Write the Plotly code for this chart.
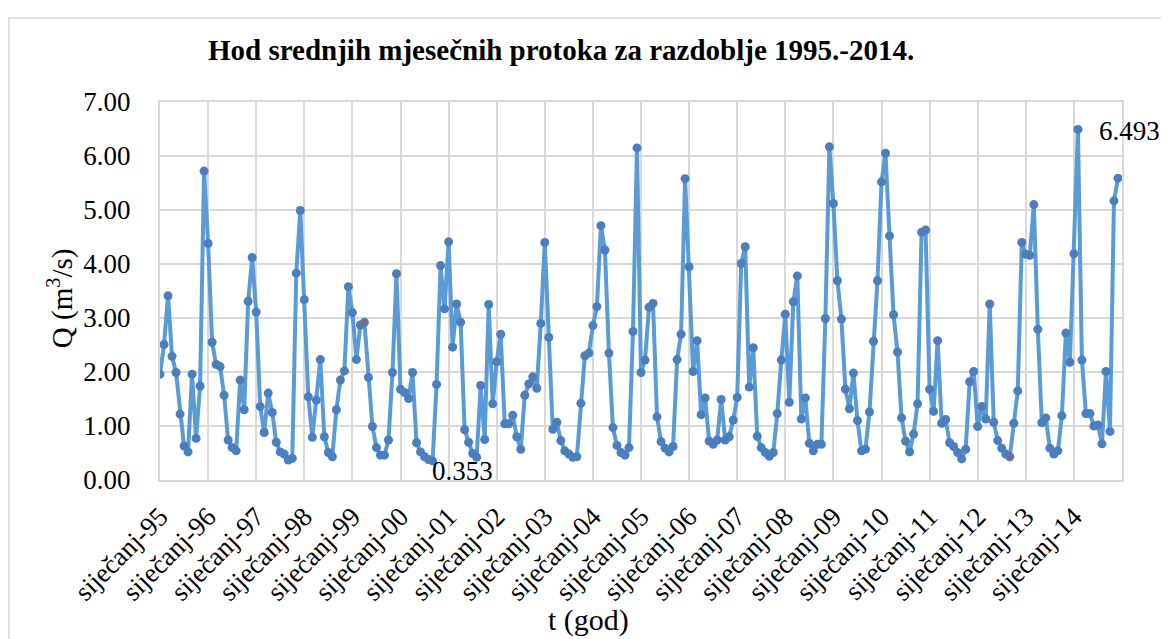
import plotly.graph_objects as go

# Monthly mean discharge Q (m3/s), January 1995 - December 2014
q_1995 = [1.96, 2.51, 3.41, 2.29, 1.99, 1.22, 0.63, 0.52, 1.96, 0.77, 1.74, 5.72]
q_1996 = [4.38, 2.55, 2.14, 2.10, 1.57, 0.74, 0.60, 0.54, 1.85, 1.30, 3.31, 4.12]
q_1997 = [3.11, 1.36, 0.88, 1.61, 1.25, 0.70, 0.52, 0.48, 0.37, 0.40, 3.83, 4.99]
q_1998 = [3.34, 1.54, 0.79, 1.48, 2.23, 0.80, 0.51, 0.43, 1.30, 1.85, 2.02, 3.58]
q_1999 = [3.10, 2.23, 2.87, 2.92, 1.90, 0.99, 0.60, 0.46, 0.46, 0.74, 1.99, 3.82]
q_2000 = [1.68, 1.62, 1.51, 1.99, 0.69, 0.52, 0.43, 0.38, 0.353, 1.77, 3.97, 3.17]
q_2001 = [4.41, 2.46, 3.26, 2.92, 0.93, 0.70, 0.49, 0.42, 1.75, 0.75, 3.25, 1.41]
q_2002 = [2.19, 2.70, 1.04, 1.04, 1.20, 0.80, 0.57, 1.57, 1.78, 1.91, 1.70, 2.90]
q_2003 = [4.40, 2.64, 0.94, 1.07, 0.73, 0.54, 0.48, 0.42, 0.43, 1.42, 2.30, 2.35]
q_2004 = [2.86, 3.21, 4.71, 4.26, 2.35, 0.97, 0.64, 0.51, 0.46, 0.60, 2.75, 6.15]
q_2005 = [1.99, 2.22, 3.20, 3.27, 1.17, 0.71, 0.59, 0.52, 0.62, 2.23, 2.70, 5.58]
q_2006 = [3.95, 2.01, 2.58, 1.21, 1.52, 0.72, 0.66, 0.74, 1.49, 0.74, 0.80, 1.11]
q_2007 = [1.53, 4.01, 4.32, 1.72, 2.45, 0.81, 0.60, 0.51, 0.44, 0.51, 1.23, 2.22]
q_2008 = [3.07, 1.44, 3.30, 3.78, 1.13, 1.52, 0.68, 0.54, 0.66, 0.66, 2.99, 6.17]
q_2009 = [5.12, 3.69, 2.98, 1.68, 1.32, 1.98, 1.10, 0.54, 0.57, 1.26, 2.57, 3.69]
q_2010 = [5.52, 6.05, 4.52, 3.06, 2.37, 1.15, 0.72, 0.52, 0.85, 1.41, 4.59, 4.63]
q_2011 = [1.68, 1.27, 2.58, 1.05, 1.12, 0.69, 0.62, 0.51, 0.39, 0.57, 1.82, 2.01]
q_2012 = [0.99, 1.36, 1.13, 3.26, 1.07, 0.73, 0.59, 0.48, 0.43, 1.05, 1.65, 4.40]
q_2013 = [4.18, 4.16, 5.10, 2.79, 1.06, 1.15, 0.59, 0.48, 0.54, 1.19, 2.72, 2.18]
q_2014 = [4.19, 6.493, 2.22, 1.23, 1.23, 1.00, 1.02, 0.67, 2.01, 0.90, 5.17, 5.59]

years = ["95", "96", "97", "98", "99", "00", "01", "02", "03", "04",
         "05", "06", "07", "08", "09", "10", "11", "12", "13", "14"]
tick_labels = ["siječanj-" + y for y in years]
highlight_idx = [51, 212]  # points drawn with a small red marker

q = (q_1995 + q_1996 + q_1997 + q_1998 + q_1999 + q_2000 + q_2001 + q_2002 +
     q_2003 + q_2004 + q_2005 + q_2006 + q_2007 + q_2008 + q_2009 + q_2010 +
     q_2011 + q_2012 + q_2013 + q_2014)
x = list(range(len(q)))
i_max = max(x, key=lambda i: q[i])
i_min = min(x, key=lambda i: q[i])

SERIF = "Liberation Serif, Times New Roman, serif"
GRID = "#d9d9d9"

fig = go.Figure()
fig.add_trace(go.Scatter(
    x=x, y=q, mode="lines+markers",
    line=dict(color="#5b9bd5", width=4),
    marker=dict(color="#4a7ebf", size=9),
    hoverinfo="x+y", showlegend=False))
fig.add_trace(go.Scatter(
    x=highlight_idx, y=[q[i] for i in highlight_idx], mode="markers",
    marker=dict(color="#c0504d", size=4), showlegend=False))

fig.add_annotation(x=i_max, y=q[i_max], text=f"{q[i_max]:.3f}", showarrow=False,
                   xanchor="left", yanchor="middle", xshift=19, yshift=-2,
                   font=dict(family=SERIF, size=27, color="black"))
fig.add_annotation(x=i_min, y=q[i_min], text=f"{q[i_min]:.3f}", showarrow=False,
                   xanchor="left", yanchor="middle", xshift=-3, yshift=-10,
                   font=dict(family=SERIF, size=27, color="black"))

fig.add_annotation(x=0.417, y=1.1376, xref="paper", yref="paper",
                   text="<b>Hod srednjih mjesečnih protoka za razdoblje 1995.-2014.</b>",
                   showarrow=False, xanchor="center", yanchor="middle",
                   font=dict(family=SERIF, size=29, color="black"))
fig.add_annotation(x=0.445, y=-0.37, xref="paper", yref="paper",
                   text="t (god)", showarrow=False, xanchor="center", yanchor="middle",
                   font=dict(family=SERIF, size=30, color="black"))
fig.add_annotation(x=-0.104, y=0.481, xref="paper", yref="paper",
                   text="Q (m<sup>3</sup>/s)", showarrow=False, textangle=-90,
                   xanchor="center", yanchor="middle",
                   font=dict(family=SERIF, size=29, color="black"))

fig.add_shape(type="rect", xref="paper", yref="paper",
              x0=-0.157, x1=1.2, y0=-0.6, y1=1.222,
              line=dict(color=GRID, width=1.5), fillcolor="rgba(0,0,0,0)", layer="below")

# the page places the figure 8 px from the top-left corner of the window
fig.update_layout(
    width=1161, height=631,
    margin=dict(l=152, r=47, t=94, b=159, autoexpand=False),
    paper_bgcolor="white", plot_bgcolor="white",
    font=dict(family=SERIF, color="black"),
    xaxis=dict(
        range=[0, 240], tickmode="array", automargin=False,
        tickvals=[12 * k for k in range(len(tick_labels))], ticktext=tick_labels,
        tickangle=-45, tickfont=dict(family=SERIF, size=27),
        showgrid=True, gridcolor=GRID, gridwidth=2,
        showline=True, linecolor=GRID, linewidth=2, mirror=True,
        zeroline=False, ticks="", ticklabelstandoff=8),
    yaxis=dict(
        range=[0, 7], dtick=1, tickformat=".2f", automargin=False,
        tickfont=dict(family=SERIF, size=27),
        showgrid=True, gridcolor=GRID, gridwidth=2,
        showline=True, linecolor=GRID, linewidth=2, mirror=True,
        zeroline=False, ticks="", ticklabelstandoff=22),
)

fig.write_html("out.html")
